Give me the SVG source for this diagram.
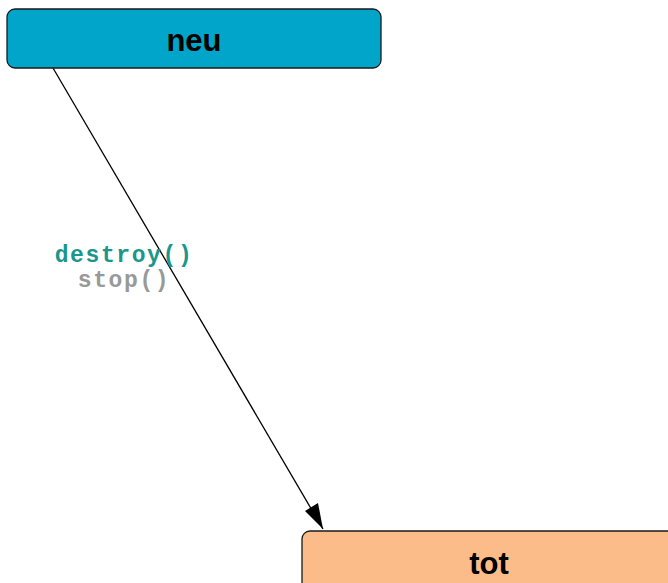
<svg xmlns="http://www.w3.org/2000/svg" width="668" height="583" viewBox="0 0 668 583">
<defs>
<style>
.node rect{stroke:#1a1a1a;stroke-width:1.3}
.title{font-family:"Liberation Sans",Arial,sans-serif;font-weight:bold;font-size:31px;text-anchor:middle;fill:#000}
.lbl{font-family:"Liberation Mono","Courier New",monospace;font-weight:bold;font-size:23px;text-anchor:middle;letter-spacing:1.6px}
</style>
</defs>
<rect width="668" height="583" fill="#fff"/>
<g id="connectors">
<line x1="53" y1="68" x2="323" y2="529" stroke="#000" stroke-width="1.3"/>
<path d="M323,529 L305,511 L318,503 z" fill="#000"/>
<text class="lbl" x="124" y="262" fill="#1a968c">destroy()</text>
<text class="lbl" x="124" y="287" fill="#999">stop()</text>
</g>
<g id="neu" class="node">
<rect x="7" y="9" width="374" height="59" rx="8" fill="#00a5c9"/>
<text class="title" x="194" y="51">neu</text>
</g>
<g id="tot" class="node">
<rect x="302" y="531" width="374" height="70" rx="8" fill="#fbbc8a"/>
<text class="title" x="489" y="574">tot</text>
</g>
</svg>
